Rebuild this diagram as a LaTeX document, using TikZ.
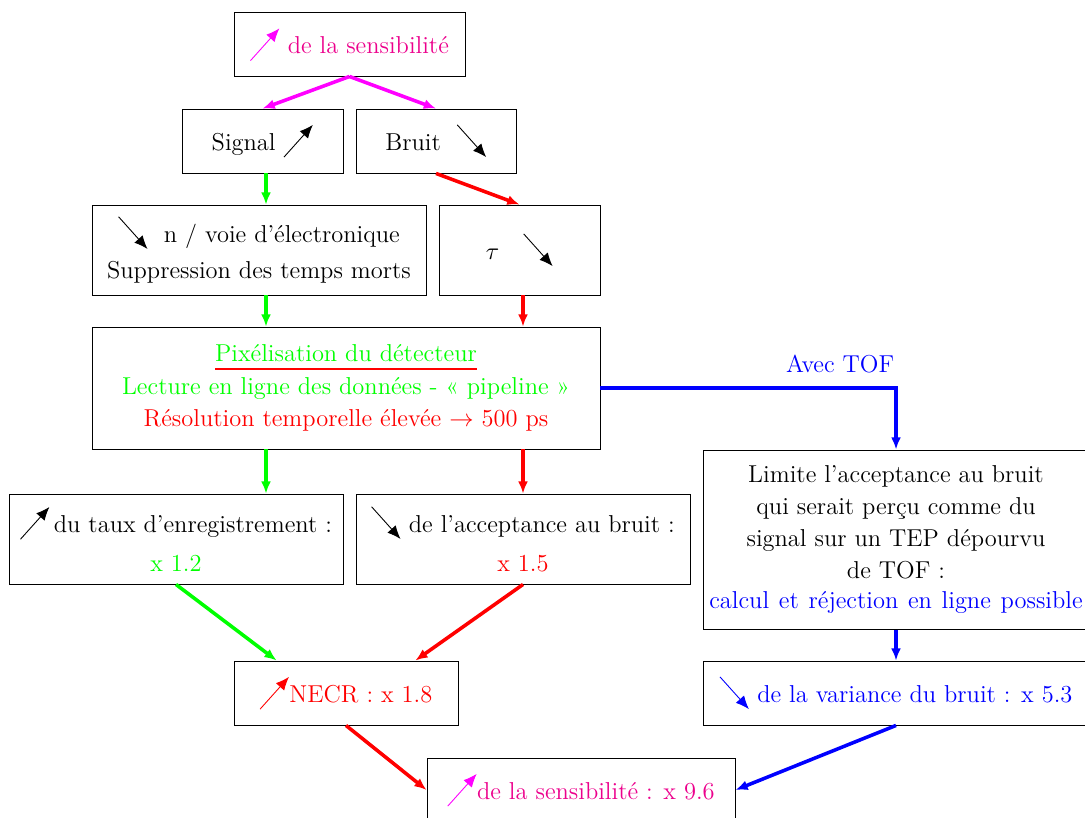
\documentclass[tikz,border=0pt]{standalone}
\usepackage{xcolor}
\usepackage{tikz}
\usetikzlibrary{arrows.meta}

\definecolor{rose}{cmyk}{0,1,0,0}
\definecolor{violet}{rgb}{1,0,1}
\newcommand{\monte}[1][black]{\tikz[baseline=0pt]\draw[#1,-{Latex[length=6pt,width=5pt]}] (0,-3pt) -- (13pt,11.5pt);}
\newcommand{\baisse}[1][black]{\tikz[baseline=0pt]\draw[#1,-{Latex[length=6pt,width=5pt]}] (0,11.5pt) -- (13pt,-3pt);}

\begin{document}
\begin{tikzpicture}[x=0.45pt,y=-0.45pt, font=\fontsize{11pt}{13.5pt}\selectfont,
    boite/.style={draw, align=center, inner sep=0pt},
    fleche/.style={line width=1.6pt, -{Latex[length=5.5pt,width=4.5pt]}}]
    \useasboundingbox (0,0) rectangle (1085,818);
    \coordinate (g) at (266,0);
    \coordinate (r) at (523,0);
    % boites
    \node[boite, minimum width=104pt, minimum height=28.4pt] (sensib) at (349.5,44.5) {\monte[violet] \textcolor{rose}{de la sensibilité}};
    \node[boite, minimum width=72.5pt, minimum height=28.8pt] (signal) at (262.5,141) {Signal \monte};
    \node[boite, minimum width=72pt, minimum height=28.8pt] (bruit) at (436,141) {Bruit \ \baisse};
    \node[boite, minimum width=150.3pt, minimum height=40.5pt] (voie) at (259,250) {\baisse\ \ n / voie d’électronique\\[3pt] Suppression des temps morts};
    \node[boite, minimum width=72.5pt, minimum height=40.5pt] (tau) at (519.5,250) {$\tau$ \ \ \baisse};
    \node[boite, minimum width=228.6pt, minimum height=54.9pt] (pixel) at (346,388) {\sbox0{\textcolor{green}{Pixélisation du détecteur}}\usebox0\llap{\textcolor{red}{\rule[-3.5pt]{\wd0}{0.9pt}}}\\[1pt]
      \textcolor{green}{Lecture en ligne des données - « pipeline »}\\[1pt]
      \textcolor{red}{Résolution temporelle élevée $\rightarrow$ 500 ps}};
    \node[boite, minimum width=150.3pt, minimum height=40.5pt] (taux) at (176,539) {\monte\,du taux d’enregistrement :\\[4pt] \textcolor{green}{x 1.2}};
    \node[boite, minimum width=150.3pt, minimum height=40.5pt] (accept) at (523,539) {\baisse\ de l’acceptance au bruit :\\[4pt] \textcolor{red}{x 1.5}};
    \node[boite, minimum width=173.7pt, minimum height=80.6pt] (limite) at (896,539.5) {Limite l’acceptance au bruit\\[1pt] qui serait perçu comme du\\[1pt]
      signal sur un TEP dépourvu\\[1pt] de TOF :\\ \textcolor{blue}{\makebox[168pt][s]{calcul et réjection en ligne possible}}};
    \node[boite, minimum width=100.8pt, minimum height=28.8pt] (necr) at (346,693) {\monte[red]\textcolor{red}{NECR : x 1.8}};
    \node[boite, minimum width=173.7pt, minimum height=28.8pt] (variance) at (896,693) {\baisse[blue]\ \textcolor{blue}{de la variance du bruit : x 5.3}};
    \node[boite, minimum width=138.6pt, minimum height=28.8pt] (final) at (581,790) {\monte[violet]\textcolor{rose}{de la sensibilité : x 9.6}};
    % fleches
    \draw[fleche, violet] (sensib.south) -- (signal.north);
    \draw[fleche, violet] (sensib.south) -- (bruit.north);
    \draw[fleche, green] (g |- signal.south) -- (g |- voie.north);
    \draw[fleche, red] (bruit.south) -- (tau.north);
    \draw[fleche, green] (g |- voie.south) -- (g |- pixel.north);
    \draw[fleche, red] (r |- tau.south) -- (r |- pixel.north);
    \draw[fleche, blue] (pixel.east) -| (limite.north)
      node[pos=0.5, anchor=south east, inner sep=0pt, yshift=6pt, text=blue] (avectof) {Avec TOF};
    \draw[fleche, green] (g |- pixel.south) -- (g |- taux.north);
    \draw[fleche, red] (r |- pixel.south) -- (r |- accept.north);
    \draw[fleche, green] (taux.south) -- ([xshift=19.4pt]necr.north west);
    \draw[fleche, red] (accept.south) -- ([xshift=-19.4pt]necr.north east);
    \draw[fleche, blue] (limite.south) -- (variance.north);
    \draw[fleche, red] (necr.south) -- (final.west);
    \draw[fleche, blue] (variance.south) -- (final.east);
\end{tikzpicture}
\end{document}
